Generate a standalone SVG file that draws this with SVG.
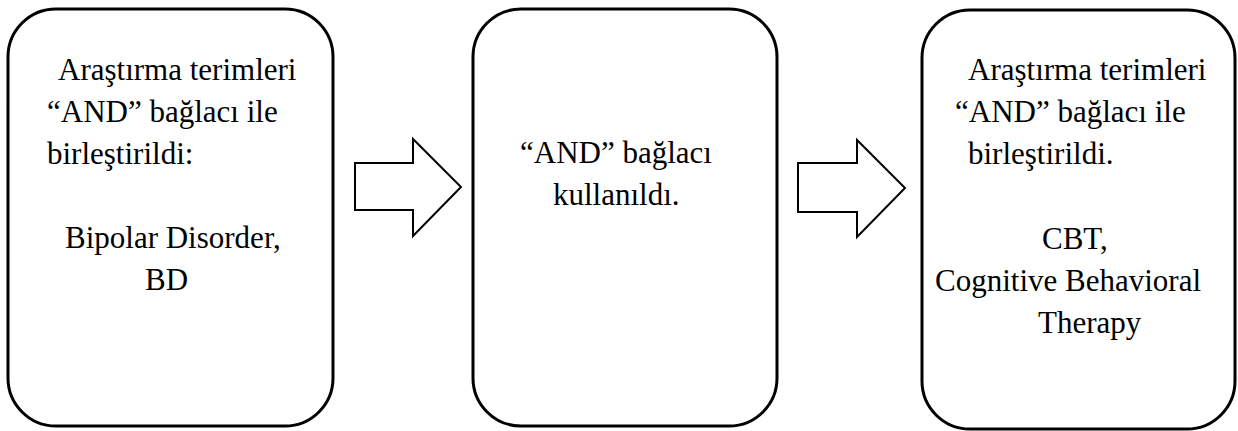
<svg xmlns="http://www.w3.org/2000/svg" width="1238" height="431" viewBox="0 0 1238 431">
  <style>
    .box { fill: #ffffff; stroke: #000000; stroke-width: 3; }
    .arrow { fill: #ffffff; stroke: #000000; stroke-width: 2; stroke-linejoin: miter; }
  </style>
  <rect width="1238" height="431" fill="#ffffff"/>

  <g font-family="Liberation Serif, Times New Roman, DejaVu Serif, serif" font-size="31" fill="#000000">
    <!-- Step 1 -->
    <g id="node-step1">
      <rect class="box" x="8" y="9" width="325" height="417" rx="48" ry="48"/>
      <text x="58" y="80">Araştırma terimleri</text>
      <text x="47" y="122">“AND” bağlacı ile</text>
      <text x="47" y="164">birleştirildi:</text>
      <text x="65" y="248">Bipolar Disorder,</text>
      <text x="145" y="290">BD</text>
    </g>

    <!-- Step 2 -->
    <g id="node-step2">
      <rect class="box" x="473" y="9" width="304" height="417" rx="48" ry="48"/>
      <text x="520" y="163">“AND” bağlacı</text>
      <text x="553" y="205">kullanıldı.</text>
    </g>

    <!-- Step 3 -->
    <g id="node-step3">
      <rect class="box" x="922" y="10" width="313" height="419" rx="48" ry="48"/>
      <text x="968" y="80">Araştırma terimleri</text>
      <text x="955" y="122">“AND” bağlacı ile</text>
      <text x="968" y="164">birleştirildi.</text>
      <text x="1042" y="249">CBT,</text>
      <text x="935" y="291">Cognitive Behavioral</text>
      <text x="1038" y="333">Therapy</text>
    </g>
  </g>

  <!-- Block arrows between steps -->
  <g id="connectors">
    <path class="arrow" d="M355,163 H413 V139 L461,187 L413,236 V210 H355 Z"/>
    <path class="arrow" d="M798,163 H857 V140 L905,188 L857,237 V212 H798 Z"/>
  </g>
</svg>
